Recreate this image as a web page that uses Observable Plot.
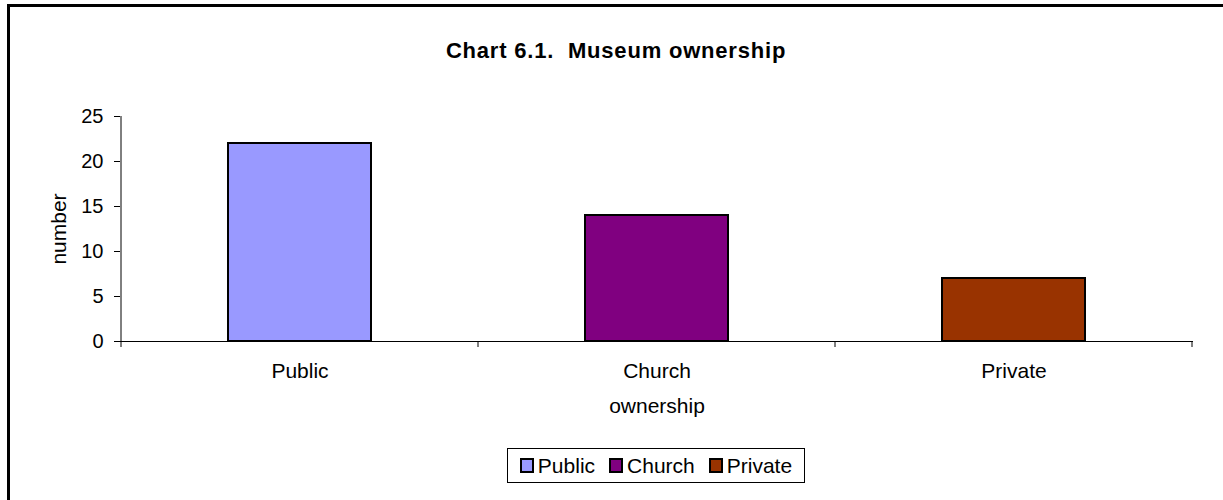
<!DOCTYPE html>
<html>
<head>
<meta charset="utf-8">
<script src="https://cdn.jsdelivr.net/npm/d3@7"></script>
<script src="https://cdn.jsdelivr.net/npm/@observablehq/plot@0.6"></script>
<style>
  body { margin: 0; background: #fff; font-family: "Liberation Sans", Arial, sans-serif; }
  #wrap { position: relative; width: 1223px; height: 500px; overflow: hidden; background: #fff; }
  #border { position: absolute; left: 7px; top: 4px; width: 1400px; height: 700px; border-left: 3px solid #000; border-top: 3px solid #000; }
  #chart { position: absolute; left: 0; top: 0; }
  #title { position: absolute; left: 0; width: 1232px; top: 40px; text-align: center; font-weight: bold; font-size: 22px; letter-spacing: 0.8px; line-height: 22px; color: #000; }
  #legend { position: absolute; left: 507px; top: 448px; width: 296px; height: 33px; border: 1px solid #000;
            display: flex; align-items: center; justify-content: center; font-size: 21px; line-height: 21px; color: #000; }
  #legend .item { display: flex; align-items: center; margin: 0 7px; }
  #legend .sw { width: 10px; height: 11px; border: 2px solid #000; margin-right: 4px; }
</style>
</head>
<body>
<div id="wrap">
  <div id="border"></div>
  <div id="chart"></div>
  <div id="title"></div>
  <div id="legend"></div>
</div>
<script>
const titleText = "Chart 6.1.\u00a0 Museum ownership";
const categories = ["Public", "Church", "Private"];
const values = [22, 14, 7];
const colors = ["#9999FF", "#800080", "#993300"];
const yTicks = [0, 5, 10, 15, 20, 25];
const xLabel = "ownership";
const yLabel = "number";

const data = categories.map((c, i) => ({ownership: c, number: values[i]}));

function boundaryTicks(index, scales) {
  const {x, y} = scales;
  const step = x.step(), bw = x.bandwidth();
  const xs = categories.map(c => x(c) + bw / 2 - step / 2);
  xs.push(x(categories[categories.length - 1]) + bw / 2 + step / 2);
  const y0 = y(0);
  const g = d3.create("svg:g").attr("stroke", "#000").attr("stroke-width", 1);
  g.selectAll("line.t").data(xs).join("line")
    .attr("x1", d => d).attr("x2", d => d)
    .attr("y1", y0).attr("y2", y0 + 6);
  g.append("line")
    .attr("x1", xs[0]).attr("x2", xs[0])
    .attr("y1", y(yTicks[yTicks.length - 1])).attr("y2", y0);
  return g.node();
}

const chart = Plot.plot({
  width: 1223,
  height: 500,
  marginTop: 116,
  marginBottom: 159,
  marginLeft: 120,
  marginRight: 30,
  style: {fontFamily: "'Liberation Sans', Arial, sans-serif", fontSize: "21px", color: "#000", background: "transparent", overflow: "visible"},
  x: {domain: categories, paddingInner: 0.6, paddingOuter: 0.3, label: null},
  y: {domain: [0, 25], label: null},
  color: {domain: categories, range: colors},
  marks: [
    Plot.barY(data, {x: "ownership", y: "number", fill: "ownership", stroke: "#000", strokeWidth: 2}),
    Plot.ruleY([0], {stroke: "#000", strokeWidth: 1}),
    boundaryTicks,
    Plot.axisY({ticks: yTicks, tickSize: 6, tickPadding: 11, label: null, fontSize: 20, stroke: "#000"}),
    Plot.axisX({tickSize: 0, tickPadding: 22, label: null, fontSize: 21}),
    Plot.text([xLabel], {frameAnchor: "bottom", dy: 65, textAnchor: "middle", lineAnchor: "middle", fontSize: 21, fill: "#000"}),
    Plot.text([yLabel], {frameAnchor: "left", dx: -61, rotate: -90, textAnchor: "middle", lineAnchor: "middle", fontSize: 21, fill: "#000"})
  ]
});
document.getElementById("chart").appendChild(chart);
document.getElementById("title").textContent = titleText;

const legend = d3.select("#legend");
categories.forEach((c, i) => {
  const item = legend.append("div").attr("class", "item");
  item.append("div").attr("class", "sw").style("background", colors[i]);
  item.append("span").text(c);
});
</script>
</body>
</html>
